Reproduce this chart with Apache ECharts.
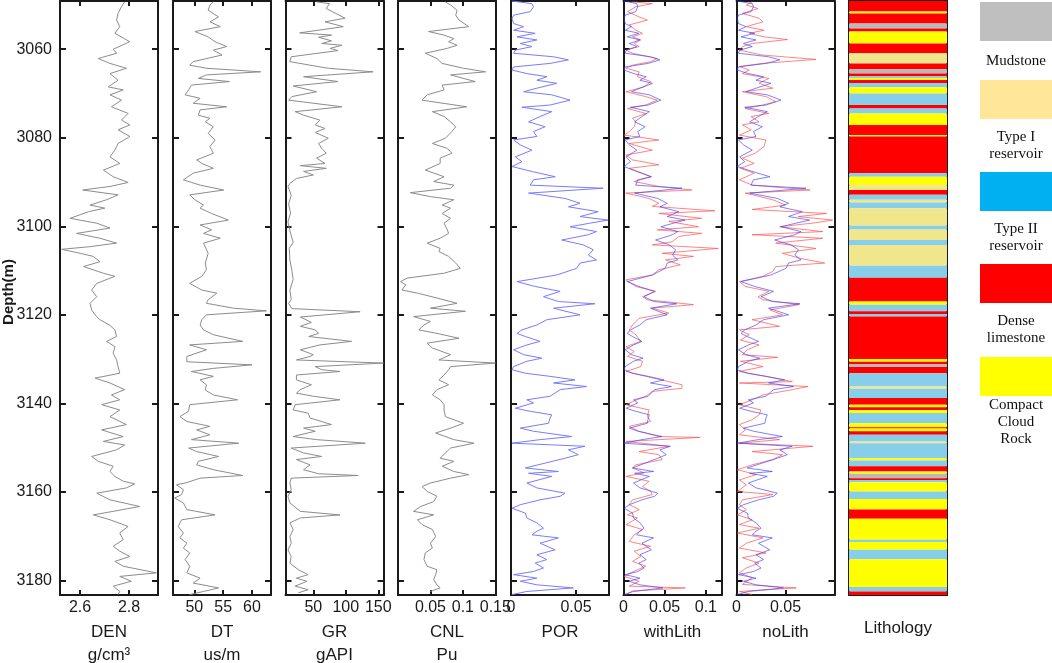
<!DOCTYPE html>
<html>
<head>
<meta charset="utf-8">
<script src="https://cdn.jsdelivr.net/npm/echarts@6/dist/echarts.min.js"></script>
<style>
html, body { margin: 0; padding: 0; background: #fff; }
#chart { width: 1052px; height: 663px; }
</style>
</head>
<body>
<div id="chart"></div>
<script>
// depth axis (m), shared by every track
const depthMin = 3049.1, depthMax = 3183.3;
const depthTicks = [3060, 3080, 3100, 3120, 3140, 3160, 3180];

// track headers, ranges and tick labels
const trackNames = ['DEN', 'DT', 'GR', 'CNL', 'POR', 'withLith', 'noLith', 'Lithology'];
const trackUnits = ['g/cm³', 'us/m', 'gAPI', 'Pu', '', '', '', ''];
const trackRanges = [[2.518, 2.918], [46.3, 63.3], [7.2, 158], [0, 0.151], [0, 0.0754], [0, 0.119], [0, 0.1], [0, 1]];
const trackTicks = [[2.6, 2.8], [50, 55, 60], [50, 100, 150], [0.05, 0.1, 0.15], [0, 0.05], [0, 0.05, 0.1], [0, 0.05], []];

// logs as [depth, value]
const denLog = [[3049.3,2.782],[3050.4,2.769],[3051.9,2.755],[3053.4,2.749],[3054.9,2.762],[3056.4,2.742],[3058.3,2.803],[3060.0,2.735],[3060.9,2.749],[3062.1,2.674],[3063.2,2.722],[3064.3,2.789],[3065.5,2.722],[3067.0,2.755],[3068.5,2.715],[3069.2,2.776],[3070.3,2.722],[3071.5,2.769],[3073.0,2.728],[3074.5,2.796],[3076.0,2.769],[3077.1,2.803],[3078.2,2.755],[3079.7,2.803],[3081.3,2.755],[3082.8,2.742],[3084.3,2.722],[3085.8,2.762],[3087.3,2.695],[3088.8,2.735],[3090.1,2.796],[3091.0,2.722],[3091.8,2.611],[3092.9,2.755],[3094.0,2.708],[3095.2,2.641],[3095.9,2.701],[3096.7,2.634],[3097.4,2.600],[3098.2,2.559],[3099.3,2.668],[3100.4,2.722],[3101.6,2.586],[3102.7,2.681],[3103.8,2.749],[3104.6,2.641],[3105.2,2.525],[3106.1,2.600],[3106.8,2.654],[3108.0,2.681],[3109.1,2.614],[3110.6,2.695],[3111.3,2.742],[3112.9,2.668],[3114.4,2.647],[3115.9,2.668],[3117.4,2.641],[3118.9,2.647],[3120.0,2.661],[3121.1,2.681],[3122.4,2.722],[3123.4,2.742],[3124.9,2.749],[3126.0,2.708],[3127.2,2.742],[3128.7,2.735],[3130.2,2.749],[3131.7,2.755],[3133.2,2.762],[3134.3,2.661],[3135.4,2.722],[3136.9,2.782],[3138.1,2.728],[3139.2,2.762],[3140.3,2.688],[3141.5,2.762],[3143.0,2.722],[3144.8,2.789],[3146.0,2.688],[3147.5,2.776],[3148.6,2.695],[3149.4,2.782],[3150.5,2.749],[3152.0,2.647],[3153.1,2.674],[3154.2,2.735],[3155.4,2.722],[3156.5,2.742],[3157.6,2.776],[3158.2,2.823],[3159.1,2.789],[3160.3,2.668],[3161.8,2.722],[3163.3,2.843],[3164.4,2.735],[3165.2,2.654],[3166.3,2.722],[3167.8,2.796],[3169.3,2.762],[3170.8,2.776],[3172.3,2.735],[3173.4,2.762],[3174.6,2.803],[3175.7,2.742],[3176.8,2.776],[3178.3,2.911],[3179.1,2.762],[3180.2,2.809],[3181.3,2.735],[3182.5,2.762],[3183.2,2.755]];

const dtLog = [[3049.3,53.3],[3050.0,52.7],[3051.2,52.4],[3052.7,54.2],[3053.8,52.7],[3054.9,54.5],[3056.0,50.1],[3057.2,52.4],[3058.3,53.6],[3059.4,55.6],[3060.2,53.3],[3061.3,54.8],[3062.8,49.8],[3063.6,49.2],[3064.3,52.1],[3065.1,61.5],[3065.8,52.1],[3066.6,50.7],[3067.3,56.1],[3068.1,49.5],[3069.2,49.0],[3070.3,48.4],[3071.1,51.0],[3072.2,49.8],[3073.0,55.6],[3073.7,51.0],[3074.9,50.7],[3075.6,52.7],[3076.4,51.9],[3077.5,53.3],[3079.0,52.4],[3080.5,53.6],[3082.0,52.7],[3083.5,53.3],[3085.0,50.4],[3085.8,51.3],[3086.9,53.3],[3088.0,49.8],[3089.5,48.1],[3090.7,51.0],[3091.8,55.1],[3092.9,49.2],[3094.0,50.1],[3095.2,51.6],[3095.9,51.0],[3097.1,53.0],[3098.6,55.9],[3099.7,51.0],[3100.8,53.0],[3101.6,51.6],[3102.7,54.5],[3103.8,51.6],[3106.1,52.4],[3108.3,51.9],[3109.8,52.1],[3111.3,51.3],[3112.9,49.2],[3114.4,51.3],[3115.1,53.9],[3116.6,52.4],[3117.4,52.1],[3118.5,56.8],[3119.1,62.5],[3120.0,52.1],[3121.1,51.3],[3122.3,51.0],[3123.4,51.6],[3124.5,53.3],[3126.0,58.4],[3126.8,49.2],[3127.9,52.1],[3129.4,48.7],[3130.6,48.7],[3131.3,60.0],[3132.1,53.3],[3132.8,49.5],[3133.9,53.3],[3134.7,51.0],[3135.8,52.1],[3137.0,51.9],[3138.1,53.3],[3139.2,57.5],[3140.3,49.2],[3141.8,49.0],[3143.0,47.5],[3144.1,48.7],[3145.2,52.7],[3146.0,50.4],[3147.1,52.7],[3148.2,49.5],[3149.0,57.7],[3150.1,49.0],[3150.9,50.4],[3152.0,54.2],[3153.1,50.7],[3153.9,50.4],[3155.0,53.3],[3156.3,58.4],[3156.9,51.0],[3157.9,48.7],[3158.4,46.9],[3159.5,48.1],[3160.6,47.8],[3161.4,46.6],[3162.5,48.1],[3164.0,48.7],[3165.2,53.6],[3166.3,47.8],[3167.8,47.2],[3169.3,48.1],[3170.4,47.5],[3171.6,48.7],[3172.7,48.1],[3173.8,49.2],[3175.3,48.4],[3176.8,49.2],[3178.3,48.7],[3179.5,51.0],[3180.6,49.8],[3181.7,54.2],[3182.5,51.6],[3183.2,49.2]];

const grLog = [[3049.3,55],[3049.7,75],[3050.8,70],[3053.0,99],[3053.8,68],[3054.9,96],[3056.3,29],[3056.8,78],[3057.3,58],[3058.1,78],[3058.7,63],[3059.1,94],[3059.8,76],[3060.3,88],[3061.7,16],[3062.8,14],[3063.6,45],[3064.3,73],[3065.1,142],[3066.2,35],[3067.3,88],[3068.3,19],[3069.6,55],[3070.7,17],[3071.5,12],[3073.0,94],[3074.1,22],[3074.9,35],[3076.0,60],[3077.1,53],[3077.9,68],[3078.8,53],[3080.1,73],[3081.3,58],[3082.4,63],[3083.5,70],[3084.6,55],[3085.8,68],[3086.3,30],[3086.9,70],[3087.6,35],[3088.4,50],[3089.2,24],[3090.3,14],[3091.0,11],[3093.0,16],[3095.0,12],[3097.0,15],[3099.0,11],[3101.0,14],[3103.6,19],[3105.0,13],[3107.6,14],[3110.0,17],[3112.0,19],[3114.4,14],[3116.6,16],[3117.4,12],[3118.6,17],[3119.3,122],[3120.5,30],[3121.7,47],[3122.6,30],[3123.4,53],[3124.2,58],[3124.9,43],[3126.0,109],[3126.8,60],[3127.9,30],[3129.0,50],[3129.4,45],[3130.2,24],[3130.9,158],[3131.7,53],[3132.4,63],[3132.8,91],[3133.6,24],[3134.7,24],[3135.8,47],[3136.9,30],[3137.7,24],[3138.4,50],[3139.2,91],[3140.3,22],[3141.5,19],[3142.2,42],[3143.3,45],[3144.8,78],[3145.6,35],[3146.3,53],[3147.5,19],[3148.2,55],[3149.0,130],[3150.1,16],[3151.2,35],[3152.0,63],[3152.7,24],[3153.9,45],[3155.0,35],[3155.9,58],[3156.3,119],[3156.9,16],[3158.0,14],[3159.5,16],[3161.0,11],[3162.5,14],[3164.4,30],[3165.2,91],[3165.9,30],[3167.0,14],[3168.5,19],[3170.1,14],[3171.6,16],[3173.1,11],[3174.6,16],[3176.1,14],[3177.6,27],[3178.7,42],[3179.5,24],[3180.2,40],[3181.3,22],[3182.1,42],[3182.8,27]];

const cnlLog = [[3049.3,0.073],[3050.0,0.081],[3051.2,0.091],[3052.3,0.089],[3053.4,0.094],[3054.9,0.109],[3056.0,0.047],[3056.8,0.071],[3057.6,0.086],[3058.3,0.078],[3059.1,0.091],[3059.8,0.076],[3060.9,0.042],[3062.1,0.060],[3063.2,0.068],[3064.3,0.101],[3065.1,0.135],[3065.8,0.081],[3067.3,0.119],[3068.1,0.068],[3069.2,0.071],[3070.3,0.045],[3071.5,0.037],[3073.0,0.106],[3074.1,0.053],[3075.2,0.071],[3076.4,0.081],[3077.5,0.089],[3078.6,0.083],[3080.1,0.073],[3081.3,0.053],[3082.4,0.076],[3083.5,0.083],[3084.6,0.065],[3085.8,0.065],[3087.3,0.042],[3088.8,0.071],[3089.9,0.055],[3090.7,0.086],[3091.4,0.081],[3092.4,0.019],[3093.3,0.050],[3094.0,0.086],[3095.2,0.068],[3095.9,0.081],[3097.1,0.068],[3098.2,0.081],[3099.3,0.071],[3100.8,0.076],[3101.6,0.078],[3102.7,0.065],[3103.8,0.045],[3105.0,0.065],[3105.7,0.063],[3106.8,0.078],[3108.3,0.089],[3109.5,0.096],[3110.6,0.071],[3111.7,0.014],[3112.5,0.004],[3113.2,0.012],[3114.4,0.006],[3115.1,0.030],[3116.2,0.060],[3117.4,0.091],[3118.5,0.050],[3119.2,0.104],[3120.4,0.024],[3121.5,0.050],[3122.3,0.040],[3123.4,0.032],[3124.2,0.060],[3125.3,0.094],[3126.4,0.045],[3127.5,0.053],[3129.0,0.081],[3130.2,0.063],[3130.9,0.150],[3131.7,0.081],[3132.4,0.078],[3133.6,0.071],[3134.7,0.063],[3135.8,0.078],[3136.9,0.060],[3138.1,0.053],[3139.2,0.065],[3140.3,0.071],[3141.5,0.071],[3143.0,0.073],[3144.5,0.101],[3145.6,0.081],[3146.7,0.058],[3148.2,0.086],[3149.0,0.117],[3150.1,0.081],[3151.2,0.073],[3152.4,0.065],[3153.1,0.086],[3154.2,0.068],[3155.4,0.086],[3156.1,0.109],[3156.9,0.081],[3158.0,0.050],[3158.8,0.037],[3159.9,0.045],[3161.0,0.060],[3162.2,0.055],[3163.3,0.035],[3164.4,0.024],[3165.2,0.055],[3166.3,0.030],[3167.4,0.037],[3168.5,0.053],[3170.1,0.058],[3171.6,0.050],[3172.7,0.053],[3173.8,0.042],[3175.3,0.040],[3176.8,0.045],[3177.6,0.060],[3178.7,0.058],[3179.8,0.055],[3181.0,0.060],[3181.7,0.065],[3182.5,0.050]];

const porLog = [[3049.1,0.0008],[3049.7,0.0161],[3050.4,0.0173],[3051.5,0.0148],[3052.3,0.002],[3053.0,0.0008],[3054.2,0.002],[3054.9,0.0097],[3055.7,0.002],[3056.4,0.0186],[3057.2,0.0046],[3057.9,0.0199],[3058.7,0.0071],[3059.4,0.0161],[3060.2,0.0033],[3060.9,0.002],[3061.7,0.0327],[3062.4,0.0442],[3063.2,0.0301],[3064.0,0.002],[3064.7,0.0008],[3065.5,0.0122],[3066.2,0.0276],[3067.0,0.0199],[3067.7,0.0352],[3068.8,0.0199],[3069.6,0.0097],[3070.3,0.0314],[3071.5,0.0454],[3072.6,0.0301],[3073.1,0.0084],[3074.1,0.0314],[3075.2,0.0224],[3076.4,0.0135],[3077.5,0.0263],[3078.6,0.0173],[3079.7,0.0199],[3080.5,0.002],[3081.6,0.0071],[3082.8,0.0161],[3084.3,0.0033],[3085.4,0.0084],[3086.5,0.0008],[3087.7,0.0173],[3088.8,0.034],[3089.5,0.0173],[3090.7,0.0148],[3091.4,0.0709],[3092.5,0.0135],[3093.7,0.0416],[3094.8,0.0531],[3095.6,0.0442],[3096.7,0.0671],[3097.8,0.0531],[3098.6,0.0747],[3099.3,0.0607],[3100.1,0.0454],[3101.2,0.0658],[3101.9,0.0595],[3103.1,0.039],[3104.2,0.0556],[3105.3,0.0633],[3106.5,0.0595],[3107.6,0.0658],[3108.3,0.0531],[3109.5,0.0505],[3111.0,0.0352],[3112.5,0.0046],[3113.6,0.0186],[3114.7,0.0378],[3115.9,0.025],[3117.0,0.0365],[3117.5,0.0646],[3118.5,0.0327],[3120.0,0.0531],[3121.1,0.0276],[3122.3,0.0199],[3123.4,0.0084],[3124.2,0.0046],[3124.9,0.011],[3126.0,0.0224],[3126.8,0.0122],[3127.9,0.002],[3129.0,0.0097],[3129.8,0.0237],[3130.5,0.0122],[3131.7,0.002],[3132.4,0.0008],[3133.2,0.011],[3133.9,0.0301],[3134.7,0.0492],[3135.4,0.0327],[3136.2,0.0582],[3136.9,0.0378],[3138.4,0.0301],[3139.2,0.0122],[3139.9,0.0173],[3141.1,0.0033],[3141.8,0.0148],[3142.6,0.0314],[3143.3,0.0301],[3144.5,0.0289],[3145.6,0.0071],[3146.3,0.0173],[3147.5,0.0467],[3148.2,0.0224],[3149.0,0.0008],[3149.7,0.0569],[3150.5,0.0442],[3151.6,0.0518],[3152.4,0.0416],[3153.5,0.0263],[3154.6,0.011],[3155.4,0.0365],[3155.8,0.0135],[3156.5,0.0314],[3158.0,0.0122],[3159.1,0.0199],[3160.3,0.0416],[3161.0,0.0378],[3161.8,0.0224],[3162.9,0.0071],[3163.7,0.0008],[3164.8,0.011],[3165.9,0.0122],[3167.0,0.0199],[3168.2,0.025],[3168.9,0.0199],[3169.7,0.0161],[3170.4,0.0365],[3171.6,0.0224],[3173.1,0.0339],[3174.2,0.0199],[3175.3,0.0276],[3176.1,0.0186],[3177.2,0.025],[3178.0,0.0173],[3178.7,0.002],[3179.5,0.0199],[3180.2,0.0071],[3181.0,0.0199],[3181.7,0.048],[3182.5,0.0122],[3183.2,0.0008]];

// predicted porosity, with and without lithology input
const withLithLog = [[3049.3,0.011],[3049.7,0.035],[3050.4,0.015],[3051.5,0.005],[3052.7,0.019],[3053.4,0.029],[3054.5,0.007],[3055.7,0.015],[3056.4,0.023],[3057.2,0.011],[3057.9,0.021],[3058.7,0.013],[3059.4,0.019],[3060.2,0.003],[3060.9,0.011],[3062.1,0.041],[3062.8,0.033],[3063.6,0.011],[3064.3,0.003],[3065.1,0.019],[3066.2,0.017],[3067.3,0.033],[3068.5,0.025],[3069.6,0.003],[3070.7,0.027],[3071.5,0.041],[3072.6,0.027],[3073.4,0.005],[3074.5,0.027],[3075.6,0.011],[3076.4,0.015],[3077.5,0.013],[3078.6,0.007],[3079.4,0.001],[3080.5,0.043],[3081.3,0.007],[3082.8,0.035],[3083.9,0.003],[3085.0,0.011],[3086.1,0.043],[3086.9,0.007],[3088.0,0.023],[3088.8,0.033],[3089.9,0.013],[3091.0,0.043],[3091.8,0.083],[3092.5,0.003],[3093.7,0.031],[3094.8,0.043],[3095.5,0.035],[3096.5,0.111],[3097.1,0.043],[3098.2,0.095],[3098.9,0.055],[3100.1,0.091],[3100.8,0.041],[3101.6,0.095],[3102.3,0.067],[3103.5,0.059],[3104.2,0.035],[3105.0,0.115],[3106.1,0.047],[3106.8,0.085],[3107.6,0.051],[3108.7,0.069],[3109.8,0.043],[3111.0,0.035],[3112.1,0.003],[3113.6,0.015],[3114.7,0.039],[3115.9,0.023],[3116.6,0.029],[3117.7,0.085],[3118.5,0.035],[3119.6,0.055],[3120.8,0.019],[3122.3,0.011],[3123.4,0.007],[3124.5,0.015],[3126.0,0.021],[3127.2,0.003],[3128.3,0.013],[3129.4,0.005],[3130.5,0.023],[3131.7,0.021],[3132.8,0.003],[3133.9,0.027],[3135.1,0.055],[3135.8,0.071],[3136.6,0.071],[3137.3,0.035],[3138.4,0.027],[3139.6,0.011],[3140.3,0.003],[3141.5,0.031],[3143.0,0.029],[3144.1,0.033],[3145.2,0.007],[3146.3,0.019],[3147.5,0.043],[3147.7,0.093],[3148.6,0.003],[3149.7,0.055],[3150.9,0.019],[3151.6,0.043],[3152.7,0.047],[3153.9,0.015],[3154.6,0.011],[3155.7,0.025],[3156.5,0.003],[3157.6,0.031],[3158.8,0.023],[3159.9,0.033],[3160.6,0.035],[3161.8,0.011],[3162.9,0.007],[3164.0,0.019],[3165.2,0.005],[3165.9,0.017],[3167.4,0.003],[3168.5,0.023],[3169.7,0.013],[3171.2,0.007],[3172.3,0.033],[3173.4,0.013],[3174.6,0.021],[3175.7,0.011],[3176.8,0.027],[3177.9,0.013],[3179.1,0.001],[3180.2,0.019],[3181.3,0.007],[3181.7,0.075],[3182.4,0.011],[3183.2,0.003]];

const noLithLog = [[3049.3,0.016],[3050.0,0.010],[3050.8,0.022],[3051.9,0.006],[3053.0,0.023],[3053.8,0.027],[3054.9,0.010],[3055.7,0.028],[3056.4,0.013],[3057.2,0.028],[3057.8,0.052],[3058.7,0.016],[3059.4,0.006],[3060.2,0.003],[3061.3,0.026],[3062.3,0.081],[3063.2,0.026],[3063.9,0.003],[3064.7,0.013],[3065.5,0.006],[3066.6,0.033],[3067.7,0.023],[3068.8,0.037],[3069.6,0.006],[3070.7,0.030],[3071.8,0.040],[3072.6,0.027],[3073.4,0.009],[3074.5,0.033],[3075.2,0.015],[3076.4,0.023],[3077.1,0.006],[3078.2,0.015],[3079.4,0.003],[3080.5,0.030],[3082.0,0.028],[3083.5,0.019],[3084.6,0.006],[3085.8,0.018],[3086.9,0.004],[3088.0,0.018],[3089.5,0.003],[3090.7,0.016],[3091.8,0.075],[3092.5,0.009],[3094.0,0.037],[3095.2,0.050],[3096.2,0.016],[3097.1,0.092],[3097.8,0.063],[3098.6,0.098],[3099.2,0.081],[3100.1,0.044],[3101.2,0.088],[3101.9,0.016],[3102.7,0.088],[3103.8,0.040],[3105.0,0.081],[3106.1,0.047],[3107.2,0.064],[3108.3,0.090],[3109.1,0.040],[3110.2,0.037],[3111.3,0.027],[3112.5,0.003],[3113.6,0.009],[3114.7,0.033],[3115.9,0.022],[3116.6,0.027],[3117.7,0.064],[3118.9,0.034],[3120.0,0.047],[3121.1,0.016],[3122.6,0.044],[3123.4,0.003],[3124.5,0.013],[3125.7,0.004],[3126.8,0.023],[3127.9,0.011],[3129.0,0.006],[3129.6,0.042],[3130.5,0.004],[3131.7,0.027],[3132.8,0.003],[3133.9,0.030],[3135.1,0.057],[3135.4,0.003],[3136.2,0.073],[3136.9,0.057],[3138.1,0.027],[3139.2,0.016],[3140.3,0.003],[3141.5,0.025],[3142.6,0.023],[3143.7,0.016],[3144.8,0.003],[3146.0,0.009],[3147.1,0.003],[3148.2,0.044],[3149.0,0.003],[3149.7,0.078],[3150.9,0.016],[3151.6,0.047],[3152.7,0.037],[3153.9,0.016],[3155.0,0.001],[3156.1,0.020],[3157.3,0.003],[3158.4,0.010],[3159.9,0.001],[3160.6,0.037],[3161.8,0.006],[3162.9,0.003],[3164.0,0.010],[3165.2,0.001],[3166.3,0.016],[3167.4,0.003],[3168.2,0.023],[3169.3,0.001],[3170.4,0.027],[3171.6,0.010],[3172.7,0.003],[3173.8,0.030],[3174.9,0.006],[3176.1,0.023],[3177.2,0.010],[3178.3,0.003],[3179.4,0.016],[3180.9,0.006],[3181.7,0.061],[3182.5,0.003],[3183.2,0.016]];

// lithology intervals: top depth of each layer and its class
// M mudstone, T1 type I reservoir, T2 type II reservoir, D dense limestone, C compact cloud rock
const lithTops = [3049.1,3051.5,3051.9,3054.2,3055.3,3056.0,3058.7,3060.9,3063.2,3064.5,3065.5,3066.1,3066.5,3066.96,3067.6,3068.6,3070.0,3072.6,3073.4,3074.5,3077.1,3079.4,3079.7,3088.0,3088.8,3090.7,3091.8,3092.9,3094.0,3094.6,3095.9,3099.9,3100.7,3103.1,3104.2,3108.9,3111.6,3117.0,3117.7,3119.2,3119.8,3120.4,3130.0,3130.6,3131.1,3131.8,3133.2,3136.2,3136.7,3138.8,3140.3,3140.9,3141.5,3142.2,3144.5,3145.4,3145.7,3146.3,3147.1,3148.6,3149.0,3152.4,3152.9,3154.2,3155.4,3155.9,3156.9,3157.3,3157.8,3159.9,3161.6,3164.0,3166.1,3170.8,3171.3,3173.1,3175.2,3181.5,3182.5];
const lithCodes = ['D','C','D','M','D','C','D','T1','D','M','D','T2','C','D','T2','C','T2','D','T2','C','D','C','D','T2','C','T1','D','T2','T1','T2','T1','T2','T1','T2','T1','T2','D','C','T2','D','T2','D','C','D','M','D','T2','T1','T2','D','C','D','C','T2','C','D','C','D','T2','T1','T2','C','T2','D','C','M','D','T2','C','T2','C','D','C','T2','C','T2','C','T2','D'];
const lithColors = { M: '#b9b9b9', T1: '#f0e68c', T2: '#87ceeb', D: '#ff0000', C: '#ffff00' };

// legend on the right
const legendNames = ['Mudstone', 'Type I\nreservoir', 'Type II\nreservoir', 'Dense\nlimestone', 'Compact\nCloud\nRock'];
const legendColors = ['#bfbfbf', '#ffe699', '#00b0f0', '#ff0000', '#ffff00'];
const legendBoxTop = [2, 80, 172, 264, 357];
const legendTextTop = [53, 129, 221, 313, 397];

const chart = echarts.init(document.getElementById('chart'));

const trackLeft = [60, 173, 285.5, 398, 511, 623.5, 736.5, 849];
const trackWidth = 98, plotTop = 1, plotHeight = 594;
const font = 'Liberation Sans, Arial, sans-serif';
const ink = '#1a1a1a';

const grids = [], xAxes = [], yAxes = [];
trackLeft.forEach(function (left, i) {
	const isLith = i === 7;
	grids.push({ left: left, top: plotTop, width: trackWidth, height: plotHeight, containLabel: false, outerBoundsMode: 'none' });
	const base = {
		gridIndex: i, type: 'value', min: trackRanges[i][0], max: trackRanges[i][1],
		axisLine: { show: true, onZero: false, lineStyle: { color: ink, width: 2 } },
		axisTick: { show: !isLith, inside: true, length: 5, lineStyle: { color: ink, width: 2 }, customValues: trackTicks[i] },
		splitLine: { show: false }
	};
	xAxes.push(Object.assign({}, base, {
		position: 'bottom',
		axisLabel: { show: true, customValues: trackTicks[i], margin: 5, fontSize: 16, color: ink, fontFamily: font },
		name: trackUnits[i] ? trackNames[i] + '\n' + trackUnits[i] : trackNames[i],
		nameLocation: 'middle', nameGap: 22,
		nameTextStyle: { fontSize: 17, lineHeight: 23, color: ink, fontFamily: font }
	}));
	xAxes.push(Object.assign({}, base, { position: 'top', axisLabel: { show: false } }));
	const yBase = {
		gridIndex: i, type: 'value', inverse: true, min: depthMin, max: depthMax,
		axisLine: { show: true, onZero: false, lineStyle: { color: ink, width: 2 } },
		axisTick: { show: !isLith, inside: true, length: 6, lineStyle: { color: ink, width: 2 }, customValues: depthTicks },
		splitLine: { show: false }
	};
	yAxes.push(Object.assign({}, yBase, {
		position: 'left',
		axisLabel: {
			show: i === 0, customValues: depthTicks, margin: 8, fontSize: 16, color: ink, fontFamily: font,
			formatter: function (v) { return String(v); }
		}
	}));
	yAxes.push(Object.assign({}, yBase, { position: 'right', axisLabel: { show: false } }));
});

function logLine(log, axis, color) {
	return {
		type: 'line', xAxisIndex: axis * 2, yAxisIndex: axis * 2,
		data: log.map(function (p) { return [p[1], p[0]]; }),
		symbol: 'none', silent: true, animation: false,
		lineStyle: { color: color, width: 1 }
	};
}

const lithData = lithTops.map(function (t, k) {
	return [t, k + 1 < lithTops.length ? lithTops[k + 1] : depthMax, lithCodes[k]];
});

const series = [
	logLine(denLog, 0, '#8c8c8c'),
	logLine(dtLog, 1, '#8c8c8c'),
	logLine(grLog, 2, '#8c8c8c'),
	logLine(cnlLog, 3, '#8c8c8c'),
	logLine(porLog, 4, '#7a7aff'),
	logLine(withLithLog, 5, 'rgba(255,80,80,0.7)'),
	logLine(porLog, 5, 'rgba(60,60,255,0.65)'),
	logLine(noLithLog, 6, 'rgba(255,80,80,0.7)'),
	logLine(porLog, 6, 'rgba(60,60,255,0.65)'),
	{
		type: 'custom', xAxisIndex: 14, yAxisIndex: 14, silent: true, animation: false,
		data: lithData,
		renderItem: function (params, api) {
			const p1 = api.coord([0, api.value(0)]);
			const p2 = api.coord([1, api.value(1)]);
			return {
				type: 'rect',
				shape: { x: p1[0], y: p1[1], width: p2[0] - p1[0], height: p2[1] - p1[1] },
				style: { fill: lithColors[lithCodes[params.dataIndex]] }
			};
		}
	}
];

const graphics = [{
	type: 'text', x: 9, y: 292, rotation: Math.PI / 2,
	style: { text: 'Depth(m)', font: 'bold 15px Liberation Sans, Arial, sans-serif', fill: ink, textAlign: 'center', textVerticalAlign: 'middle' }
}];
legendNames.forEach(function (name, k) {
	graphics.push({ type: 'rect', shape: { x: 980, y: legendBoxTop[k], width: 72, height: 39 }, style: { fill: legendColors[k] } });
	graphics.push({
		type: 'text', x: 1016, y: legendTextTop[k],
		style: { text: name, font: '15px Liberation Serif, Times New Roman, serif', lineHeight: 17, fill: '#111', textAlign: 'center', textVerticalAlign: 'top' }
	});
});

chart.setOption({
	animation: false,
	grid: grids,
	xAxis: xAxes,
	yAxis: yAxes,
	series: series,
	graphic: graphics
});
</script>
</body>
</html>
